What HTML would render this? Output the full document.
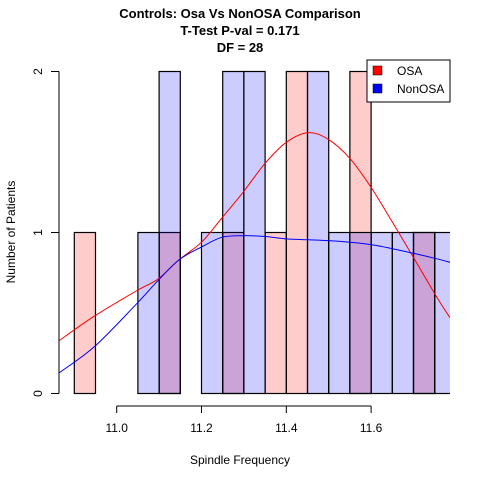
<!DOCTYPE html>
<html><head><meta charset="utf-8"><style>
body{margin:0;background:#fff}
svg{display:block;font-family:"Liberation Sans",Arial,sans-serif}
</style></head><body>
<svg id="c" width="480" height="480" viewBox="0 0 480 480">
<text x="240" y="18" text-anchor="middle" font-size="13" font-weight="bold">Controls: Osa Vs NonOSA Comparison</text>
<text x="240" y="35" text-anchor="middle" font-size="13" font-weight="bold">T-Test P-val = 0.171</text>
<text x="240" y="52" text-anchor="middle" font-size="13" font-weight="bold">DF = 28</text>
<text x="240" y="464" text-anchor="middle" font-size="12">Spindle Frequency</text>
<text transform="translate(15,232) rotate(-90)" text-anchor="middle" font-size="12">Number of Patients</text>
<defs><clipPath id="clip"><rect x="59" y="60" width="391" height="340"/></clipPath></defs>
<g id="bars" clip-path="url(#clip)"></g>
<g id="curves" clip-path="url(#clip)"></g>
<g id="axes"></g>
<g>
<rect x="367" y="60" width="83" height="42" fill="#fff" stroke="#000"/>
<rect x="373" y="66" width="9" height="9" fill="#f00" stroke="#000" stroke-width="0.5"/>
<text x="397" y="75" font-size="12">OSA</text>
<rect x="373" y="84" width="9" height="9" fill="#00f" stroke="#000" stroke-width="0.5"/>
<text x="397" y="93" font-size="12">NonOSA</text>
</g>
</svg>
<script>
const binWidth = 0.05;
const osaBins = [10.90, 11.10, 11.25, 11.35, 11.40, 11.55, 11.70];
const osaCounts = [1, 1, 1, 1, 2, 2, 1];
const nonBins = [11.05, 11.10, 11.20, 11.25, 11.30, 11.45, 11.50, 11.55, 11.60, 11.65, 11.70, 11.75];
const nonCounts = [1, 2, 1, 2, 2, 2, 1, 1, 1, 1, 1, 1];
const curveX = [10.865,10.947,11.048,11.097,11.147,11.2,11.248,11.298,11.35,11.4,11.451,11.498,11.55,11.6,11.649,11.701,11.75,11.786];
const osaCurve = [0.33,0.48,0.64,0.71,0.83,0.94,1.09,1.25,1.43,1.56,1.62,1.58,1.46,1.28,1.07,0.84,0.62,0.47];
const nonCurve = [0.13,0.29,0.56,0.70,0.83,0.91,0.97,0.98,0.975,0.96,0.955,0.95,0.94,0.925,0.90,0.87,0.84,0.815];
const xTicks = [11.0, 11.2, 11.4, 11.6];
const xTickLabels = ["11.0","11.2","11.4","11.6"];
const yTicks = [0, 1, 2];

const NS = "http://www.w3.org/2000/svg";
const X = v => 116.7 + (v - 11.0) * 424;
const Y = v => 393.5 - v * 161;
function mk(tag, attrs, parent){const e=document.createElementNS(NS,tag);for(const k in attrs)e.setAttribute(k,attrs[k]);parent.appendChild(e);return e;}
const bars = document.getElementById('bars');
osaBins.forEach((b,i)=>{
  const r = mk('rect',{x:X(b),y:Y(osaCounts[i]),width:X(b+binWidth)-X(b),height:Y(0)-Y(osaCounts[i]),fill:'rgba(255,0,0,0.2)',stroke:'#000','stroke-width':1.2},bars);
  
  
});
nonBins.forEach((b,i)=>{
  const r = mk('rect',{x:X(b),y:Y(nonCounts[i]),width:X(b+binWidth)-X(b),height:Y(0)-Y(nonCounts[i]),fill:'rgba(0,0,255,0.2)',stroke:'#000','stroke-width':1.2},bars);
  
  
});
const curves = document.getElementById('curves');
function line(vals,color,name){
  const P = curveX.map((x,i)=>[X(x),Y(vals[i])]);
  let d = 'M'+P[0][0].toFixed(1)+','+P[0][1].toFixed(1);
  for(let i=0;i<P.length-1;i++){
    const p0=P[Math.max(0,i-1)],p1=P[i],p2=P[i+1],p3=P[Math.min(P.length-1,i+2)];
    const c1=[p1[0]+(p2[0]-p0[0])/6,p1[1]+(p2[1]-p0[1])/6];
    const c2=[p2[0]-(p3[0]-p1[0])/6,p2[1]-(p3[1]-p1[1])/6];
    d+=` C${c1[0].toFixed(1)},${c1[1].toFixed(1)} ${c2[0].toFixed(1)},${c2[1].toFixed(1)} ${p2[0].toFixed(1)},${p2[1].toFixed(1)}`;
  }
  const p = mk('path',{d:d,fill:'none',stroke:color,'stroke-width':1},curves);
  
  
}
line(osaCurve,'#f00','osa-density-curve');
line(nonCurve,'#00f','nonosa-density-curve');
const axes = document.getElementById('axes');
const xa = mk('line',{x1:X(xTicks[0]),x2:X(xTicks[xTicks.length-1]),y1:406,y2:406,stroke:'#000'},axes);


xTicks.forEach((t,i)=>{
  mk('line',{x1:X(t),x2:X(t),y1:406,y2:413,stroke:'#000'},axes);
  const tx = mk('text',{x:X(t),y:432,'text-anchor':'middle','font-size':12},axes);
  tx.textContent = xTickLabels[i];
  
  
});
const ya = mk('line',{x1:59,x2:59,y1:Y(yTicks[yTicks.length-1]),y2:Y(yTicks[0]),stroke:'#000'},axes);


yTicks.forEach(t=>{
  mk('line',{x1:51,x2:59,y1:Y(t),y2:Y(t),stroke:'#000'},axes);
  const tx = mk('text',{transform:`translate(42,${Y(t)}) rotate(-90)`,'text-anchor':'middle','font-size':12},axes);
  tx.textContent = String(t);
  
  
});
</script>
</body></html>
